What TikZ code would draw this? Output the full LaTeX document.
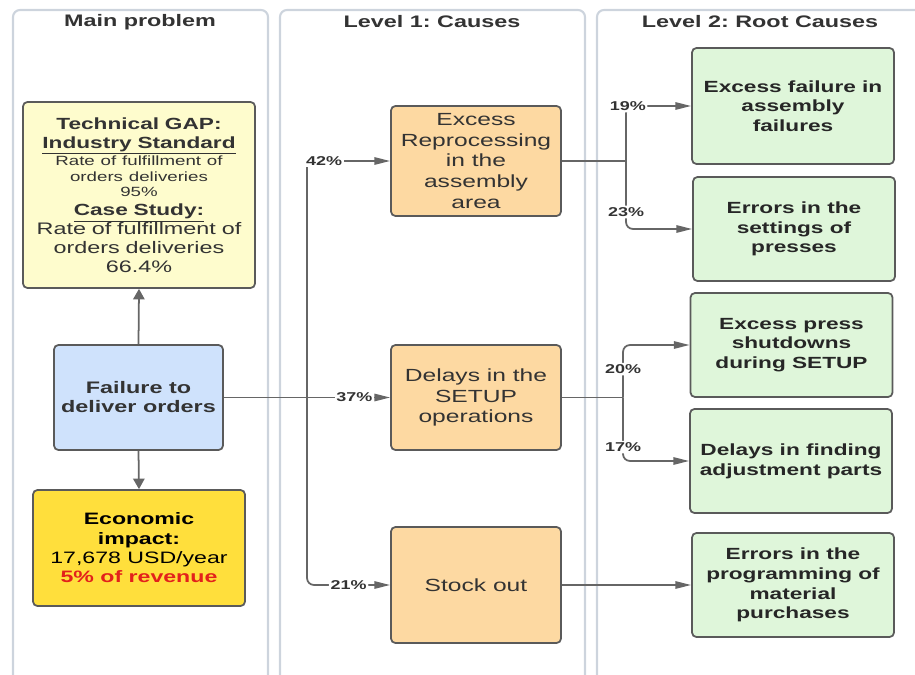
\documentclass[tikz,border=0pt]{standalone}
\usepackage{fontspec}
\setmainfont{Liberation Sans}[FakeStretch=1.4]
\usetikzlibrary{arrows.meta}
\frenchspacing

\definecolor{lanegray}{HTML}{CDD4DD}
\definecolor{boxline}{HTML}{5A5A5A}
\definecolor{connline}{HTML}{666666}
\definecolor{titletext}{HTML}{333333}
\definecolor{gapfill}{HTML}{FEFCCD}
\definecolor{failfill}{HTML}{CFE2FC}
\definecolor{econfill}{HTML}{FFDF3C}
\definecolor{causefill}{HTML}{FDD9A2}
\definecolor{rootfill}{HTML}{DFF6DA}
\definecolor{revred}{HTML}{E3211B}

% underline close to the baseline
\newcommand{\ulgap}[1]{\underline{\smash{#1}\vphantom{,}}}

\tikzset{
  lane/.style={draw=lanegray, line width=1.2pt, rounded corners=4pt},
  lanetitle/.style={font=\bfseries\fontsize{9.5}{11}\selectfont, text=titletext},
  box/.style={draw=boxline, line width=1pt, rounded corners=2.5pt, align=center, inner sep=2pt},
  gapbox/.style={box, fill=gapfill, text=titletext, minimum width=4.64cm, minimum height=3.72cm, text width=4.5cm},
  failbox/.style={box, fill=failfill, text=titletext, minimum width=3.38cm, minimum height=2.1cm, font=\bfseries\fontsize{9.5}{10.8}\selectfont},
  econbox/.style={box, fill=econfill, text=black, minimum width=4.24cm, minimum height=2.32cm, font=\fontsize{9.4}{11}\selectfont},
  causebox/.style={box, fill=causefill, text=titletext, minimum width=3.4cm, font=\fontsize{10}{11.7}\selectfont},
  rootbox/.style={box, fill=rootfill, text=black!85, minimum width=4.04cm, minimum height=2.08cm, font=\bfseries\fontsize{9.2}{11.2}\selectfont},
  conn/.style={draw=connline, line width=1pt},
  hconn/.style={conn, -{Triangle[length=9pt,width=4.2pt]}},
  vconn/.style={conn, -{Triangle[length=6pt,width=6.5pt]}},
  pct/.style={font=\bfseries\fontsize{7.3}{8}\selectfont, text=titletext, fill=white, inner sep=1pt}
}

\begin{document}
\begin{tikzpicture}[x=0.02cm, y=-0.02cm]
    \useasboundingbox (0,0) rectangle (915,675);

    % swimlanes
    \draw[lane] (13,700) -- (13,10) -- (268,10) -- (268,700);
    \draw[lane] (280,700) -- (280,10) -- (585,10) -- (585,700);
    \draw[lane] (597,700) -- (597,10) -- (940,10);
    \node[lanetitle] (tmain) at (140,22) {Main problem};
    \node[lanetitle] (tlevel1) at (432,22) {Level 1: Causes};
    \node[lanetitle] (tlevel2) at (760,22) {Level 2: Root Causes};

    % main problem
    \node[gapbox] (gap) at (139,195) {%
        {\bfseries\fontsize{9.2}{10.8}\selectfont Technical GAP:\\ \ulgap{Industry Standard}\par}
        {\fontsize{7.6}{8.8}\selectfont Rate of fulfillment of\\ orders deliveries\\ 95\%\par}
        {\bfseries\fontsize{9.2}{11}\selectfont \ulgap{Case Study:}\par}
        {\fontsize{9.5}{10.7}\selectfont Rate of fulfillment of\\ orders deliveries\\ 66.4\%\par}};
    \node[failbox] (fail) at (138.5,397.5) {Failure to\\deliver orders};
    \node[econbox] (econ) at (139,548) {\textbf{Economic}\\\textbf{impact:}\\17,678 USD/year\\\textcolor{revred}{\textbf{5\% of revenue}}};

    % level 1
    \node[causebox, minimum height=2.2cm] (reproc) at (476,161) {Excess\\Reprocessing\\in the\\assembly\\area};
    \node[causebox, minimum height=2.1cm] (setup) at (476,397.5) {Delays in the\\SETUP\\operations};
    \node[causebox, minimum height=2.32cm] (stock) at (476,585) {Stock out};

    % level 2
    \node[rootbox, minimum height=2.32cm] (assyfail) at (793,106) {Excess failure in\\assembly\\failures};
    \node[rootbox] (settings) at (794,229) {Errors in the\\settings of\\presses};
    \node[rootbox] (shutdown) at (791.5,345) {Excess press\\shutdowns\\during SETUP};
    \node[rootbox] (findparts) at (791,461) {Delays in finding\\adjustment parts};
    \node[rootbox] (purchases) at (793,585) {Errors in the\\programming of\\material\\purchases};

    % connectors
    \draw[vconn] (fail.north) -- (gap.south);
    \draw[vconn] (fail.south) -- (econ.north);

    \coordinate (jn) at (307,397.5);
    \draw[conn] (fail.east) -- (jn);
    \draw[hconn] (jn) |- node[pct, pos=0.5, anchor=west, xshift=-2pt] {42\%} (reproc.west);
    \draw[hconn] (jn) -- node[pct, pos=0.57] {37\%} (setup.west);
    \draw[hconn, rounded corners=4pt] (jn) |- node[pct, pos=0.75] {21\%} (stock.west);

    \coordinate (ja) at (626,161);
    \draw[conn] (reproc.east) -- (ja);
    \draw[hconn, rounded corners=4pt] (ja) |- node[pct, pos=0.5, xshift=1pt] {19\%} (assyfail.west);
    \draw[hconn, rounded corners=4pt] (ja) |- node[pct, pos=0.375] {23\%} (settings.west);

    \coordinate (jb) at (623,397.5);
    \draw[conn] (setup.east) -- (jb);
    \draw[hconn, rounded corners=4pt] (jb) |- node[pct, pos=0.27] {20\%} (shutdown.west);
    \draw[hconn, rounded corners=4pt] (jb) |- node[pct, pos=0.39] {17\%} (findparts.west);

    \draw[hconn] (stock.east) -- (purchases.west);
\end{tikzpicture}
\end{document}
